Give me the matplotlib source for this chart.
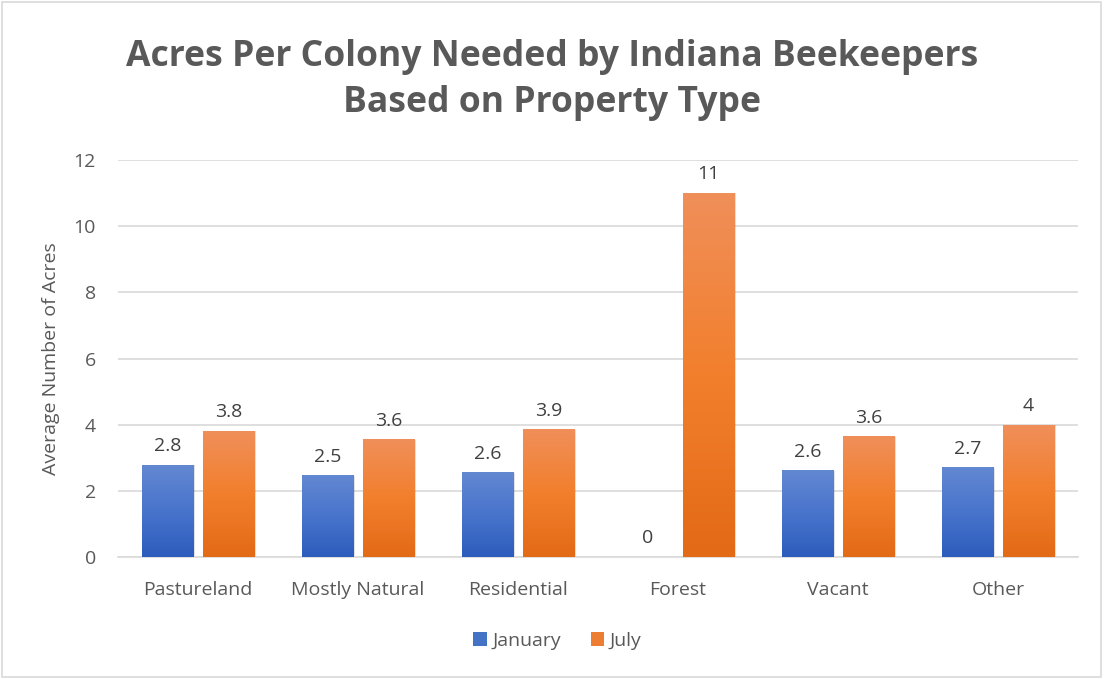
import numpy as np
import matplotlib.pyplot as plt
from matplotlib.colors import LinearSegmentedColormap
from matplotlib.patches import Rectangle

categories = ['Pastureland', 'Mostly Natural', 'Residential', 'Forest', 'Vacant', 'Other']
january = [2.77, 2.45, 2.55, 0, 2.6, 2.7]
july = [3.8, 3.55, 3.85, 11, 3.64, 3.98]
january_labels = ['2.8', '2.5', '2.6', '0', '2.6', '2.7']
july_labels = ['3.8', '3.6', '3.9', '11', '3.6', '4']

plt.rcParams['font.family'] = ['Open Sans', 'DejaVu Sans']
gray = '#595959'

fig = plt.figure(figsize=(11.04, 6.79), dpi=100)
ax = fig.add_axes([118 / 1104, 1 - 557 / 679, 960 / 1104, 397 / 679])

# outer chart border
fig.patches.append(Rectangle((2 / 1104, 2 / 679), 1099 / 1104, 675 / 679, transform=fig.transFigure,
                             fill=False, edgecolor='#d9d9d9', linewidth=1.2))

blue_cmap = LinearSegmentedColormap.from_list('b', ['#2c5cbc', '#4874cc', '#6388d2'])
orange_cmap = LinearSegmentedColormap.from_list('o', ['#e36a17', '#f27f2c', '#f08f5a'])
grad = np.linspace(0, 1, 256).reshape(-1, 1)

x = np.arange(len(categories))
w = 0.32
off = 0.19

for xs, vals, labels, cmap in [(x - off, january, january_labels, blue_cmap),
                               (x + off, july, july_labels, orange_cmap)]:
    for xi, v, lab in zip(xs, vals, labels):
        if v > 0:
            # soft shadow
            ax.add_patch(Rectangle((xi - w / 2 + 0.012, 0), w, v, facecolor='#000000', alpha=0.12,
                                   edgecolor='none', zorder=2))
            ax.imshow(grad, cmap=cmap, origin='lower', aspect='auto',
                      extent=(xi - w / 2, xi + w / 2, 0, v), zorder=3)
        ax.text(xi, v + 0.3, lab, ha='center', va='bottom', fontsize=14, color='#404040', zorder=4)

ax.set_xlim(-0.5, len(categories) - 0.5)
ax.set_ylim(0, 12)
ax.set_yticks(range(0, 13, 2))
ax.set_xticks(x)
ax.set_xticklabels(categories)
ax.tick_params(axis='both', length=0, labelsize=14, labelcolor=gray)
ax.tick_params(axis='x', pad=17)
ax.tick_params(axis='y', pad=16)
ax.grid(axis='y', color='#d9d9d9', linewidth=1.2, zorder=0)
ax.set_axisbelow(True)
for s in ['top', 'right', 'left']:
    ax.spines[s].set_visible(False)
ax.spines['bottom'].set_color('#d9d9d9')
ax.spines['bottom'].set_linewidth(1.2)

ax.set_ylabel('Average Number of Acres', fontsize=14, color=gray)
ax.yaxis.set_label_coords(-58 / 960, 0.5)

fig.text(0.5, 1 - 80 / 679, 'Acres Per Colony Needed by Indiana Beekeepers\nBased on Property Type',
         ha='center', va='center', fontsize=25.6, fontweight='bold', color=gray, linespacing=1.4)

handles = [Rectangle((0, 0), 1, 1, facecolor='#4472c4'), Rectangle((0, 0), 1, 1, facecolor='#ed7d31')]
fig.legend(handles, ['January', 'July'], loc='center', bbox_to_anchor=(0.505, 1 - 641 / 679),
           ncol=2, frameon=False, fontsize=14, handlelength=0.7, handleheight=0.7,
           handletextpad=0.3, columnspacing=1.5, labelcolor=gray)

fig.savefig('out.png', dpi=100)
